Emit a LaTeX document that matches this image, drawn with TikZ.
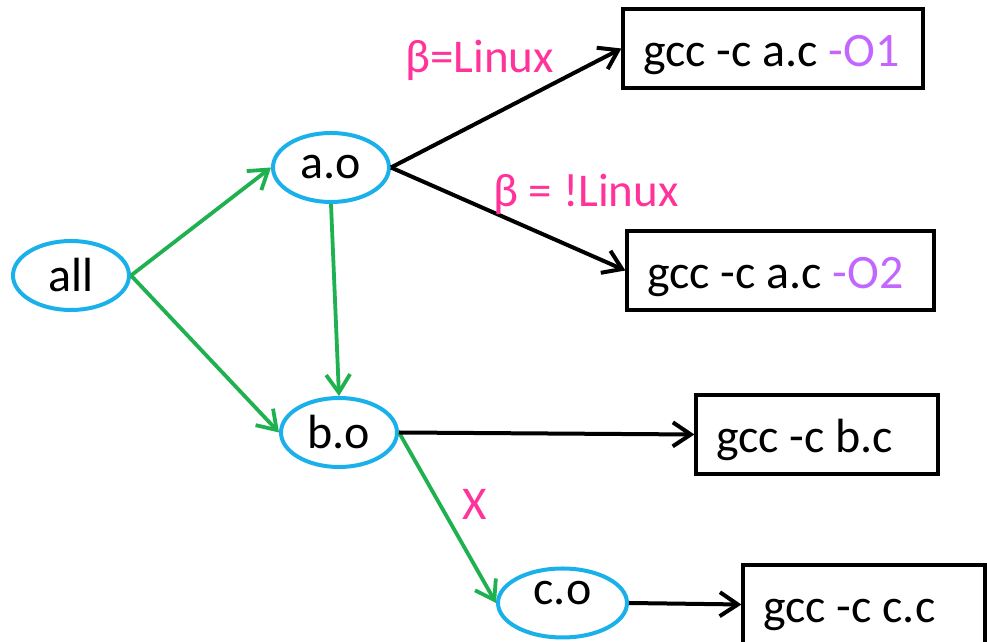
\documentclass[tikz,border=0pt]{standalone}
\usepackage{fontspec}
\setmainfont{Carlito}
\usetikzlibrary{arrows.meta,shapes.geometric}

\definecolor{objblue}{HTML}{1AB0EA}
\definecolor{depgreen}{HTML}{1FB050}
\definecolor{condpink}{HTML}{FF3399}
\definecolor{optpurple}{HTML}{C266FF}

\begin{document}
\begin{tikzpicture}[
   x=0.5pt,y=0.5pt,
   font=\fontsize{24}{28}\selectfont,
   obj/.style={draw=objblue,ellipse,line width=2pt,minimum width=58pt,minimum height=34.5pt,inner sep=0pt},
   cmd/.style={draw,line width=1.6pt,minimum height=39.5pt,inner xsep=10pt,align=flush left,text height=18.5pt,text depth=0pt},
   dep/.style={-{Straight Barb[length=9pt,width=12pt]},depgreen,line width=1.9pt},
   rule/.style={-{Straight Barb[length=9pt,width=12pt]},line width=2pt},
   cond/.style={text=condpink,inner sep=0pt,anchor=base west,font=\fontsize{23.5}{28}\selectfont}]
\useasboundingbox (0,0) rectangle (987,642);
% targets
\node[obj] (all) at (71,366.5) {all};
\node[obj] (ao) at (331,474.5) {a.o};
\node[obj] (bo) at (339,209.5) {b.o};
\node[obj,minimum width=64.5pt] (co) at (562.5,39) {\raisebox{5pt}[\height][\depth]{c.o}};
% commands
\node[cmd,text width=130pt] (ca1) at (773,593.5) {gcc -c a.c \textcolor{optpurple}{-O1}};
\node[cmd,text width=133.5pt] (ca2) at (780.5,371.5) {gcc -c a.c \textcolor{optpurple}{-O2}};
\node[cmd,text width=101pt] (cb) at (817,207.5) {gcc -c b.c};
\node[cmd,text width=101pt] (cc) at (864,37.5) {gcc -c c.c};
% dependencies
\draw[dep] (all.east) -- (ao.west);
\draw[dep] (all.east) -- (bo.west);
\draw[dep] (ao.south) -- (bo.north);
\draw[dep] (bo.east) -- (co.west);
% rules
\draw[rule] (ao.east) -- (ca1.west);
\draw[rule] (ao.east) -- (ca2.west);
\draw[rule] (bo.east) -- (cb.west);
\draw[rule] (co.east) -- (cc.west);
% conditions
\node[cond] (lin) at (405,569) {β=Linux};
\node[cond] (nlin) at (493,435) {β = !Linux};
\node[cond] (nox) at (462,122) {X};
\end{tikzpicture}
\end{document}
